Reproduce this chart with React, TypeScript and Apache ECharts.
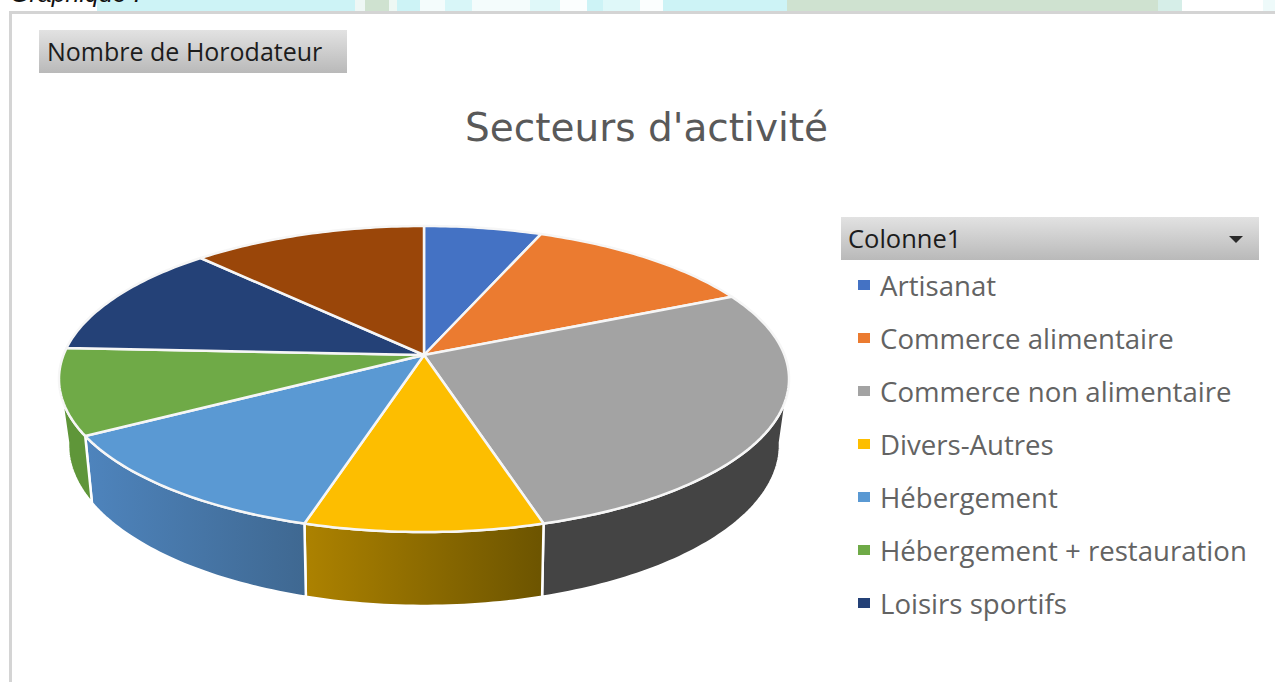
import React, { useEffect, useRef } from "react";
import * as echarts from "echarts";

const categories = [
  "Artisanat",
  "Commerce alimentaire",
  "Commerce non alimentaire",
  "Divers-Autres",
  "Hébergement",
  "Hébergement + restauration",
  "Loisirs sportifs",
  "Restauration",
];
const legendCategories = categories.slice(0, 7);
const values = [2, 4, 9, 3, 4, 3, 4, 4];
const topColors = ["#4472C4", "#EB7B30", "#A3A3A3", "#FDBE00", "#5A99D3", "#6FAA47", "#244177", "#9A4609"];
const wallLeft = ["#2F5597", "#B85F25", "#444444", "#AD8200", "#4E84BD", "#5F9639", "#1A3058", "#6E3206"];
const wallRight = ["#2F5597", "#B85F25", "#444444", "#6C5400", "#3F6891", "#5F9639", "#1A3058", "#6E3206"];

const TOP = { x: 424, y0: 355, ax: 360.5, ay: 93.5, k: 0.157 };
const BOTTOM = { x: 424, y0: 417.6, ax: 350.8, ay: 85.3, k: 0.17 };
const WALL_FROM = 99;
const WALL_TO = 261;

const project = (g: typeof TOP, deg: number): number[] => {
  const t = (deg * Math.PI) / 180;
  const u = Math.sin(t);
  const v = -Math.cos(t);
  const w = 1 - g.k * v;
  return [g.x + (g.ax * u) / w, (g.ay * v + g.y0) / w];
};

const arc = (g: typeof TOP, a: number, b: number): number[][] => {
  const steps = Math.max(2, Math.ceil(Math.abs(b - a)));
  const pts: number[][] = [];
  for (let i = 0; i <= steps; i++) pts.push(project(g, a + ((b - a) * i) / steps));
  return pts;
};

const total = values.reduce((s, v) => s + v, 0);
const startAngle = (i: number) => (values.slice(0, i).reduce((s, v) => s + v, 0) / total) * 360;

const makeRenderItem = (i: number) => () => {
  const a0 = startAngle(i);
  const a1 = startAngle(i + 1);
  const children: any[] = [];
  const from = Math.max(a0, WALL_FROM);
  const to = Math.min(a1, WALL_TO);
  if (to > from) {
    children.push({
      type: "polygon",
      z2: 1,
      shape: { points: [...arc(TOP, from, to), ...arc(BOTTOM, to, from)] },
      style: {
        fill: new echarts.graphic.LinearGradient(0, 0, 1, 0, [
          { offset: 0, color: wallLeft[i] },
          { offset: 1, color: wallRight[i] },
        ]),
        stroke: "#ffffff",
        lineWidth: 2.5,
        lineJoin: "round",
      },
    });
  }
  children.push({
    type: "polygon",
    z2: 10,
    shape: { points: [[TOP.x, TOP.y0], ...arc(TOP, a0, a1)] },
    style: { fill: topColors[i], stroke: "#f6f6f6", lineWidth: 2.5, lineJoin: "round" },
  });
  return { type: "group", children };
};

const backdrop = [
  { x: 97, w: 258, c: "#cdf3f6" },
  { x: 355, w: 10, c: "#eef7f5" },
  { x: 365, w: 24, c: "#cfe2d0" },
  { x: 389, w: 8, c: "#eef8f4" },
  { x: 397, w: 23, c: "#cdf3f6" },
  { x: 420, w: 25, c: "#f4fcfc" },
  { x: 445, w: 27, c: "#d8f6f8" },
  { x: 472, w: 58, c: "#f4fcfc" },
  { x: 530, w: 30, c: "#dff8f9" },
  { x: 560, w: 27, c: "#fbfefe" },
  { x: 587, w: 16, c: "#cdf3f6" },
  { x: 603, w: 37, c: "#dff8f9" },
  { x: 640, w: 23, c: "#fbfefe" },
  { x: 663, w: 124, c: "#cdf3f6" },
  { x: 787, w: 371, c: "#cfe2d0" },
  { x: 1158, w: 24, c: "#d6eee8" },
  { x: 1263, w: 12, c: "#eefafa" },
];

const buttonFill = () =>
  new echarts.graphic.LinearGradient(0, 0, 0, 1, [
    { offset: 0, color: "#e2e2e2" },
    { offset: 1, color: "#b9b9b9" },
  ]);

export default function App() {
  const ref = useRef<HTMLDivElement>(null);
  useEffect(() => {
    document.body.style.margin = "0";
    const chart = echarts.init(ref.current!, undefined, { renderer: "svg" });
    chart.setOption({
      animation: false,
      backgroundColor: "#ffffff",
      color: topColors,
      title: {
        text: "Secteurs d'activité",
        left: 460,
        top: 103,
        textStyle: { fontFamily: "DejaVu Sans", fontSize: 39, fontWeight: "normal", color: "#595959" },
      },
      legend: {
        orient: "vertical",
        left: 858,
        top: 271,
        padding: 0,
        data: legendCategories,
        icon: "rect",
        itemWidth: 12,
        itemHeight: 10,
        itemGap: 25,
        selectedMode: false,
        textStyle: {
          fontFamily: "Open Sans",
          fontSize: 27.6,
          lineHeight: 25,
          color: "#636363",
          padding: [0, 0, 0, 5],
        },
      },
      graphic: [
        ...backdrop.map((b) => ({
          type: "rect",
          z: -10,
          shape: { x: b.x, y: 0, width: b.w, height: 12 },
          style: { fill: b.c },
        })),
        { type: "rect", z: -9, shape: { x: 9, y: 11, width: 1266, height: 3 }, style: { fill: "#d4d4d4" } },
        { type: "rect", z: -9, shape: { x: 9, y: 11, width: 3, height: 671 }, style: { fill: "#d4d4d4" } },
        {
          type: "text",
          z: -8,
          x: 10,
          y: -20,
          style: { text: "Graphique :", fontFamily: "Liberation Sans", fontStyle: "italic", fontSize: 25, fill: "#111111" },
        },
        { type: "rect", shape: { x: 39, y: 30, width: 308, height: 43 }, style: { fill: buttonFill() } },
        {
          type: "text",
          x: 47,
          y: 38,
          style: { text: "Nombre de Horodateur", fontFamily: "Open Sans", fontSize: 25, fill: "#1c1c1c" },
        },
        { type: "rect", shape: { x: 841, y: 217, width: 418, height: 43 }, style: { fill: buttonFill() } },
        {
          type: "text",
          x: 848,
          y: 225,
          style: { text: "Colonne1", fontFamily: "Open Sans", fontSize: 25.5, fill: "#1c1c1c" },
        },
        {
          type: "polygon",
          shape: { points: [[1229, 236], [1243, 236], [1236, 243]] },
          style: { fill: "#2a2a2a" },
        },
      ],
      series: categories.map((name, i) => ({
        type: "custom",
        name,
        coordinateSystem: "none",
        data: [[values[i]]],
        renderItem: makeRenderItem(i),
        silent: true,
      })),
    });
    return () => chart.dispose();
  }, []);
  return <div ref={ref} style={{ position: "absolute", left: 0, top: 0, width: 1275, height: 682 }} />;
}
